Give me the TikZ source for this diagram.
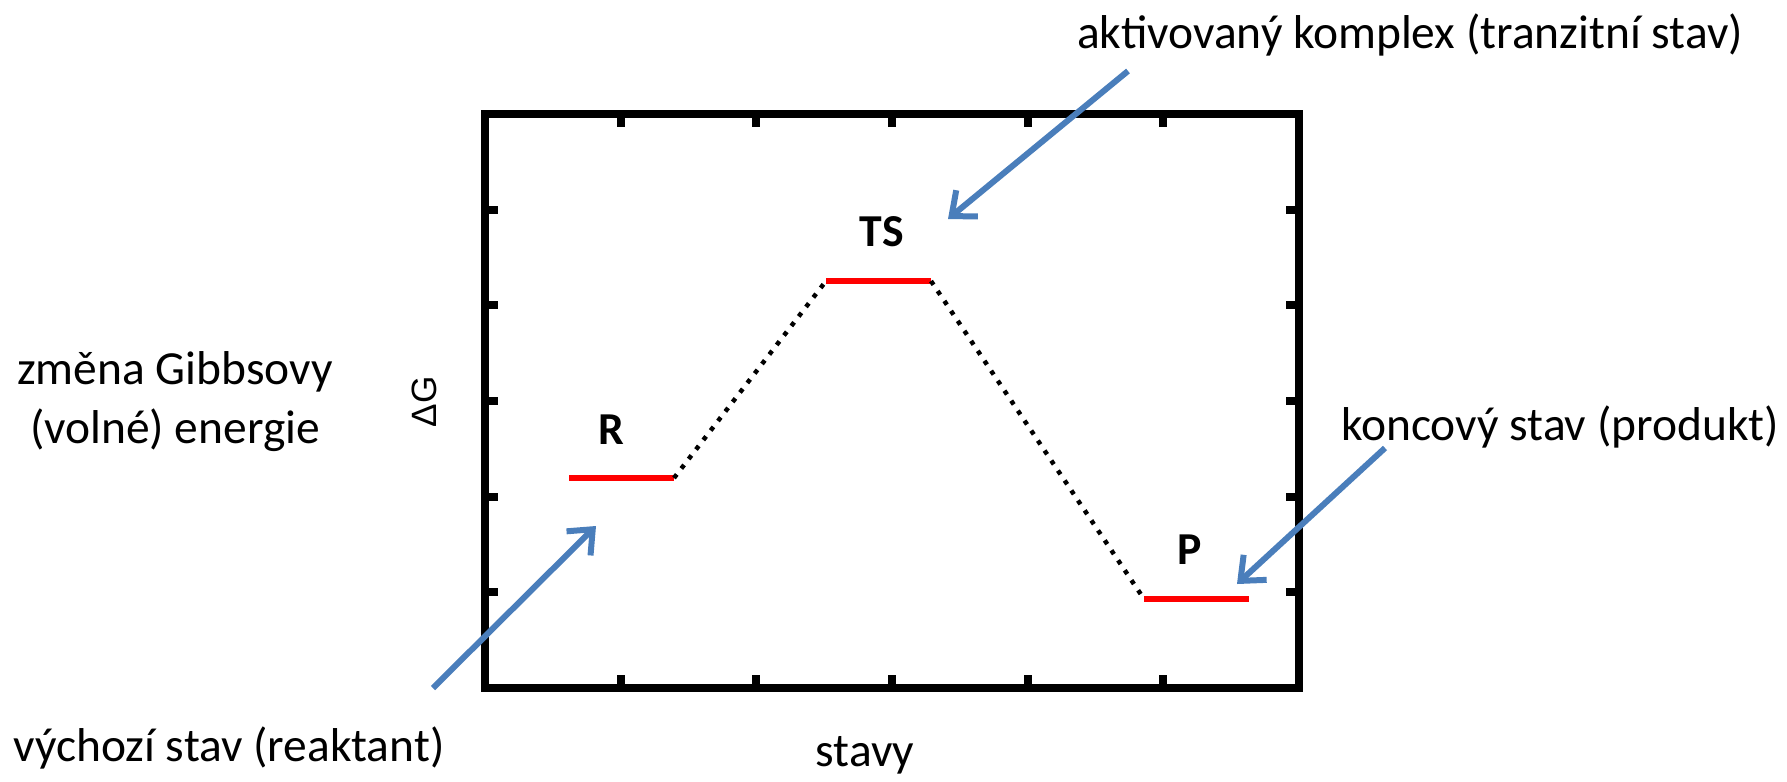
\documentclass[tikz,border=0pt]{standalone}
\usepackage{fontspec}
\setmainfont{Carlito}
\newfontfamily\arialfont{Liberation Sans}
\usetikzlibrary{arrows.meta}
\definecolor{arrowblue}{RGB}{74,126,187}

\begin{document}
\begin{tikzpicture}[x=0.01cm, y=-0.01cm,
    frame/.style={line width=0.08cm},
    level/.style={red, line width=0.06cm},
    path/.style={line width=0.045cm, dash pattern=on 0.045cm off 0.075cm},
    pointer/.style={arrowblue, line width=0.06cm,
      -{Straight Barb[length=0.2cm, width=0.34cm]}},
    caption/.style={font=\fontsize{13.5}{16.8}\selectfont},
    levelname/.style={font=\bfseries\fontsize{13}{15}\selectfont}]
  \useasboundingbox (0,0) rectangle (1787,781);
  % Box with inward ticks
  \draw[frame] (485,114) rectangle (1299,688);
  \foreach \i in {1,...,5} {
    \draw[frame] ({485+\i*135.67},688) -- ++(0,-13);
    \draw[frame] ({485+\i*135.67},114) -- ++(0,13);
    \draw[frame] (485,{688-\i*95.67}) -- ++(13,0);
    \draw[frame] (1299,{688-\i*95.67}) -- ++(-13,0);
  }
  % Energy levels
  \coordinate (R-l) at (569,478);
  \coordinate (R-r) at (674,478);
  \coordinate (TS-l) at (826,281);
  \coordinate (TS-r) at (931,281);
  \coordinate (P-l) at (1144,599);
  \coordinate (P-r) at (1249,599);
  \draw[level] (R-l) -- (R-r);
  \draw[level] (TS-l) -- (TS-r);
  \draw[level] (P-l) -- (P-r);
  \draw[path] (R-r) -- (TS-l);
  \draw[path] (TS-r) -- (P-l);
  \node[levelname] (R) at (611,430) {R};
  \node[levelname] (TS) at (882,232) {TS};
  \node[levelname] (P) at (1190,550) {P};
  % Axis labels
  \node[rotate=90, font=\arialfont\fontsize{10}{12}\selectfont] (dG) at (424,402) {ΔG};
  \node[caption, anchor=base] (states) at (865,766) {stavy};
  \node[caption, align=center] (gibbs) at (175,402) {změna Gibbsovy\\(volné) energie};
  % Pointers
  \node[caption, anchor=base] (tslabel) at (1410,48) {aktivovaný komplex (tranzitní stav)};
  \node[caption, anchor=base] (plabel) at (1560,440) {koncový stav (produkt)};
  \node[caption, anchor=base] (rlabel) at (229,761) {výchozí stav (reaktant)};
  \coordinate (ts-tail) at (1128,71);
  \coordinate (ts-head) at (948,219);
  \coordinate (p-tail) at (1385,448);
  \coordinate (p-head) at (1237,584);
  \coordinate (r-tail) at (433,688);
  \coordinate (r-head) at (596,526);
  \draw[pointer] (ts-tail) -- (ts-head);
  \draw[pointer] (p-tail) -- (p-head);
  \draw[pointer] (r-tail) -- (r-head);
\end{tikzpicture}
\end{document}
